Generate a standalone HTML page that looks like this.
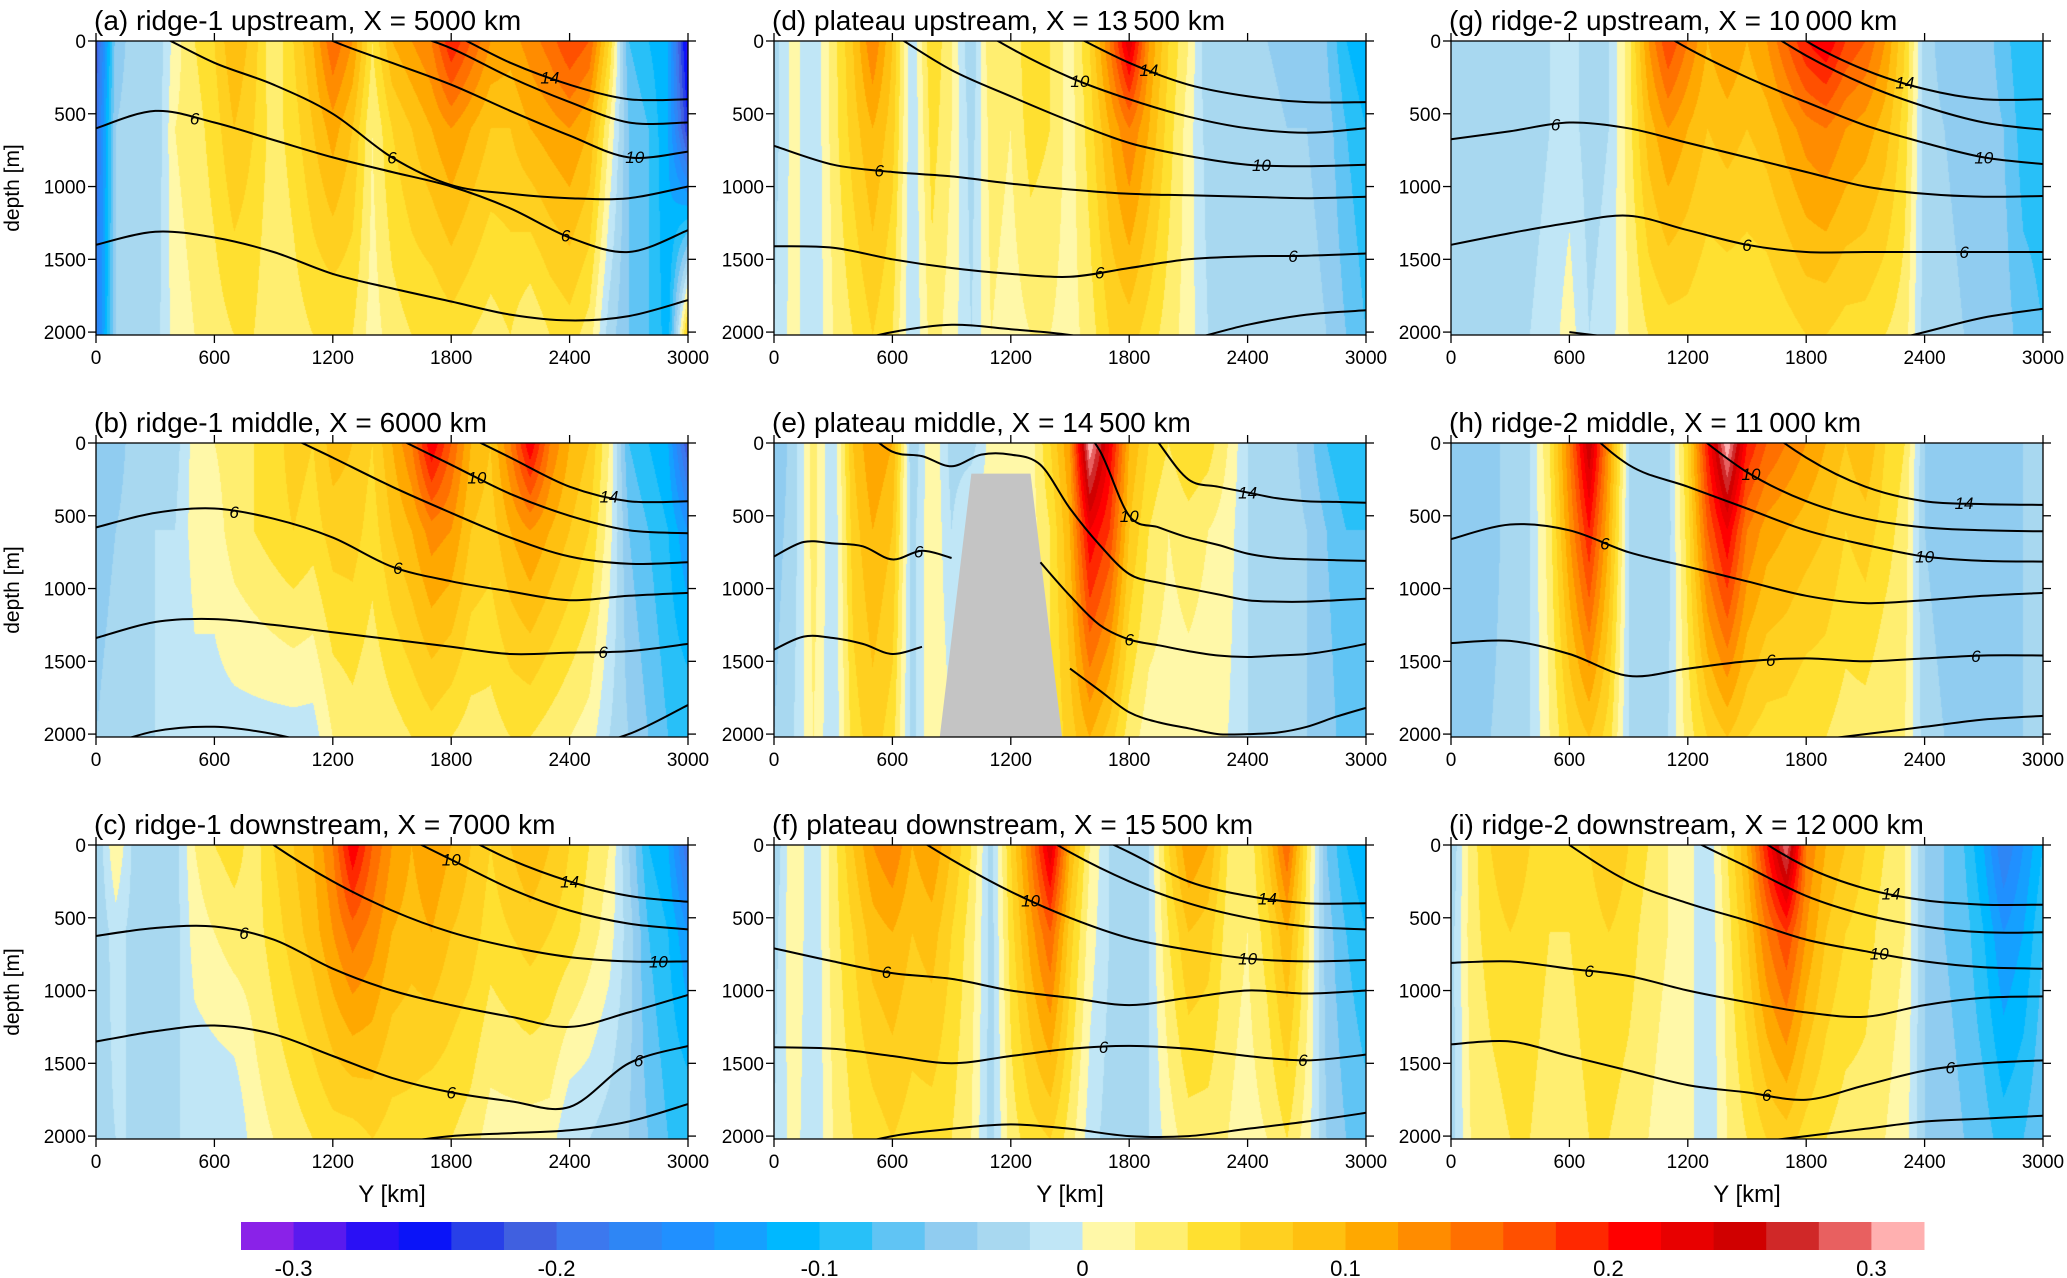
<!DOCTYPE html>
<html><head><meta charset="utf-8"><title>Sections</title>
<style>
html,body{margin:0;padding:0;background:#fff;}
body{width:2067px;height:1278px;position:relative;overflow:hidden;font-family:"Liberation Sans",sans-serif;}
canvas{position:absolute;}
svg{position:absolute;left:0;top:0;}
</style></head>
<body>
<div id="canv"></div>
<svg id="fig" width="2067" height="1278"></svg>
<script>
// ---- data ----
const yTicks = [0,500,1000,1500,2000];
const xTicks = [0,600,1200,1800,2400,3000];
const cbTicks = [-0.3,-0.2,-0.1,0,0.1,0.2,0.3];
const levelDepths = [0,600,2020];
const palette = ["#8a22e8","#5a1aee","#2a10f5","#0a14f8","#2840e8","#4060e0","#3c78ee","#2e86f5","#2090ff","#15a0ff","#00b8ff","#28c0f8","#60c4f4","#90ccf0","#a8d8f0","#c0e6f6","#fff8a8","#ffee70","#ffe030","#ffd020","#ffc010","#ffa800","#ff8c00","#ff7000","#ff5000","#ff2800","#ff0000","#e80000","#d00000","#d02828","#e86060","#ffb0b0"];
const titles = ["(a) ridge-1 upstream, X = 5000 km","(b) ridge-1 middle, X = 6000 km","(c) ridge-1 downstream, X = 7000 km","(d) plateau upstream, X = 13\u2009500 km","(e) plateau middle, X = 14\u2009500 km","(f) plateau downstream, X = 15\u2009500 km","(g) ridge-2 upstream, X = 10\u2009000 km","(h) ridge-2 middle, X = 11\u2009000 km","(i) ridge-2 downstream, X = 12\u2009000 km"];

const aSurf=[-0.22,-0.05,-0.03,-0.04,0.01,0.04,0.06,0.1,0.07,0.02,0.06,0.1,0.16,0.12,0.04,0.1,0.12,0.14,0.2,0.16,0.12,0.11,0.13,0.15,0.18,0.16,0.06,-0.08,-0.1,-0.12,-0.28];
const aMid=[-0.2,-0.04,-0.03,-0.04,0.02,0.03,0.05,0.08,0.06,0.03,0.05,0.08,0.11,0.08,0.02,0.06,0.08,0.1,0.12,0.1,0.08,0.08,0.1,0.11,0.12,0.1,0.02,-0.06,-0.08,-0.12,-0.24];
const aDeep=[-0.18,-0.04,-0.03,-0.03,0.01,0.02,0.03,0.04,0.04,0.02,0.03,0.04,0.04,0.04,0.01,0.03,0.04,0.04,0.05,0.04,0.03,0.04,0.02,0.04,0.05,0.03,-0.03,-0.06,-0.08,-0.11,0.08];
const bSurf=[-0.06,-0.05,-0.03,-0.02,-0.03,0.01,0.02,0.03,0.04,0.05,0.07,0.06,0.09,0.08,0.06,0.1,0.14,0.22,0.16,0.1,0.08,0.14,0.22,0.14,0.1,0.08,0.02,-0.08,-0.1,-0.12,-0.22];
const bMid=[-0.05,-0.04,-0.03,-0.02,-0.02,0.01,0.01,0.03,0.04,0.05,0.06,0.05,0.07,0.07,0.05,0.08,0.1,0.13,0.12,0.08,0.07,0.1,0.12,0.1,0.08,0.06,0.01,-0.06,-0.08,-0.1,-0.14];
const bDeep=[-0.04,-0.03,-0.02,-0.02,-0.02,-0.01,-0.01,-0.01,-0.01,-0.01,-0.01,-0.01,0.02,0.03,0.02,0.03,0.04,0.05,0.04,0.03,0.03,0.04,0.04,0.03,0.02,0.01,-0.02,-0.04,-0.06,-0.08,-0.08];
const cSurf=[-0.04,0.02,-0.03,-0.02,-0.03,0.02,0.04,0.05,0.03,0.06,0.08,0.1,0.14,0.22,0.16,0.12,0.1,0.12,0.1,0.08,0.06,0.08,0.1,0.08,0.06,0.04,0.02,-0.04,-0.1,-0.12,-0.2];
const cMid=[-0.04,-0.01,-0.03,-0.02,-0.03,0.01,0.02,0.03,0.03,0.05,0.07,0.09,0.12,0.15,0.13,0.1,0.09,0.1,0.08,0.07,0.05,0.06,0.07,0.06,0.05,0.03,0.01,-0.03,-0.08,-0.1,-0.14];
const cDeep=[-0.03,-0.02,-0.02,-0.02,-0.02,-0.02,-0.02,-0.02,0.01,0.02,0.03,0.04,0.05,0.05,0.06,0.05,0.05,0.04,0.04,0.03,0.01,0.01,0.01,0.01,-0.02,-0.02,-0.03,-0.04,-0.06,-0.08,-0.08];
const dSurf=[-0.03,0.01,-0.02,0.03,0.08,0.14,0.08,-0.02,0.06,0.02,-0.04,0.04,0.02,0.06,0.04,0.01,0.06,0.14,0.24,0.12,0.06,0.02,-0.04,-0.03,-0.02,-0.04,-0.05,-0.04,-0.06,-0.1,-0.12];
const dMid=[-0.03,0.01,-0.02,0.03,0.07,0.1,0.07,-0.02,0.05,0.02,-0.03,0.03,0.02,0.05,0.04,0.01,0.05,0.1,0.14,0.1,0.05,0.01,-0.03,-0.03,-0.02,-0.03,-0.04,-0.04,-0.05,-0.08,-0.1];
const dDeep=[-0.02,0.01,-0.02,0.02,0.04,0.06,0.04,-0.02,0.03,0.01,-0.02,0.02,0.01,0.02,0.02,0.01,0.03,0.06,0.07,0.05,0.03,0.01,-0.02,-0.02,-0.02,-0.02,-0.03,-0.03,-0.04,-0.06,-0.08];
const eSurf=[-0.06,-0.03,0.03,-0.02,0.08,0.12,0.1,-0.04,0.02,-0.03,-0.03,0.01,0.01,0.01,0.06,0.12,0.32,0.22,0.1,0.06,0.04,0.06,0.05,0.02,-0.02,-0.04,-0.03,-0.05,-0.08,-0.1,-0.1];
const eMid=[-0.05,-0.03,0.03,-0.02,0.07,0.1,0.08,-0.03,0.02,-0.02,0.01,0.01,0.01,0.01,0.04,0.1,0.22,0.18,0.08,0.04,0.02,0.03,0.02,0.01,-0.02,-0.03,-0.03,-0.04,-0.06,-0.08,-0.08];
const eDeep=[-0.04,-0.02,0.02,-0.02,0.05,0.07,0.05,-0.03,0.02,0,0,0,0,0,0.04,0.07,0.1,0.07,0.03,0.01,0.01,0.01,0.01,0,-0.02,-0.03,-0.03,-0.04,-0.05,-0.07,-0.07];
const fSurf=[-0.04,0.02,-0.02,0.03,0.08,0.12,0.14,0.1,0.12,0.08,0.04,-0.03,0.06,0.14,0.24,0.1,0.02,-0.02,-0.03,-0.02,0.06,0.12,0.1,0.04,0.02,0.08,0.16,0.04,-0.06,-0.1,-0.12];
const fMid=[-0.03,0.02,-0.02,0.03,0.06,0.09,0.1,0.08,0.09,0.06,0.03,-0.03,0.05,0.11,0.16,0.07,0.01,-0.02,-0.03,-0.02,0.04,0.08,0.07,0.03,0.02,0.05,0.1,0.03,-0.05,-0.08,-0.1];
const fDeep=[-0.02,0.01,-0.02,0.02,0.04,0.05,0.06,0.05,0.05,0.04,0.02,-0.03,0.03,0.05,0.06,0.03,-0.01,-0.03,-0.03,-0.02,0.01,0.03,0.03,0.02,0.01,0.02,0.04,0.01,-0.04,-0.06,-0.07];
const gSurf=[-0.04,-0.03,-0.03,-0.02,-0.03,-0.02,-0.01,-0.03,-0.02,0.03,0.12,0.18,0.14,0.1,0.12,0.1,0.12,0.16,0.2,0.22,0.18,0.16,0.12,0.06,-0.03,-0.05,-0.06,-0.05,-0.07,-0.1,-0.1];
const gMid=[-0.04,-0.03,-0.03,-0.02,-0.03,-0.02,-0.01,-0.03,-0.02,0.03,0.09,0.12,0.1,0.08,0.09,0.08,0.09,0.11,0.13,0.14,0.12,0.11,0.09,0.05,-0.03,-0.04,-0.05,-0.05,-0.06,-0.09,-0.09];
const gDeep=[-0.03,-0.03,-0.02,-0.02,-0.02,-0.01,0.01,-0.02,-0.01,0.02,0.04,0.05,0.05,0.04,0.04,0.04,0.04,0.05,0.06,0.06,0.05,0.05,0.04,0.03,-0.03,-0.03,-0.04,-0.04,-0.05,-0.07,-0.08];
const hSurf=[-0.05,-0.04,-0.05,-0.03,-0.02,0.04,0.14,0.26,0.12,-0.02,-0.04,-0.03,0.06,0.2,0.32,0.2,0.16,0.14,0.12,0.1,0.08,0.1,0.06,0.04,-0.04,-0.06,-0.05,-0.06,-0.05,-0.04,-0.02];
const hMid=[-0.05,-0.04,-0.05,-0.03,-0.02,0.03,0.12,0.2,0.1,-0.02,-0.04,-0.03,0.05,0.16,0.22,0.14,0.11,0.1,0.09,0.08,0.06,0.07,0.05,0.03,-0.04,-0.05,-0.05,-0.05,-0.05,-0.04,-0.02];
const hDeep=[-0.04,-0.04,-0.04,-0.03,-0.02,0.02,0.06,0.08,0.05,-0.02,-0.03,-0.02,0.03,0.06,0.08,0.06,0.05,0.05,0.04,0.04,0.03,0.03,0.02,0.02,-0.03,-0.04,-0.04,-0.04,-0.04,-0.04,-0.03];
const iSurf=[-0.04,0.03,0.06,0.08,0.06,0.05,0.04,0.06,0.08,0.06,0.04,0.02,0.01,-0.02,0.04,0.1,0.2,0.3,0.14,0.1,0.08,0.06,0.04,0.02,-0.04,-0.06,-0.08,-0.12,-0.18,-0.14,-0.1];
const iMid=[-0.03,0.03,0.05,0.06,0.05,0.04,0.04,0.05,0.06,0.05,0.03,0.02,0.01,-0.02,0.03,0.08,0.14,0.18,0.12,0.08,0.06,0.05,0.03,0.02,-0.04,-0.06,-0.07,-0.1,-0.14,-0.12,-0.08];
const iDeep=[-0.03,0.02,0.03,0.04,0.04,0.03,0.03,0.04,0.04,0.03,0.02,0.01,0.01,-0.02,0.02,0.04,0.06,0.07,0.05,0.04,0.03,0.03,0.02,0.01,-0.04,-0.05,-0.06,-0.07,-0.09,-0.08,-0.06];

// contour depths (m) at evenly spaced Y across 0..3000 km; null = no line
const aLines=[[-1500,-1200,-900,-600,-400,-200,-50,150,300,400,400],[-1200,-900,-700,-500,-300,-100,50,250,420,560,560],[-800,-600,-400,-200,0,150,300,480,650,800,760],[-200,-50,150,300,500,800,990,1050,1080,1080,1000],[600,480,560,680,800,900,1000,1150,1350,1450,1300],[1400,1310,1350,1450,1600,1700,1790,1880,1920,1890,1780]];
const bLines=[[-1800,-1400,-1100,-800,-500,-300,-100,100,300,400,400],[-1400,-1100,-800,-500,-250,-50,150,350,500,600,620],[-900,-600,-350,-100,100,300,480,650,780,830,820],[580,480,450,520,650,850,950,1020,1080,1050,1030],[1340,1230,1210,1250,1300,1350,1400,1450,1440,1430,1380],[2100,1980,1950,2000,2100,2200,2200,2150,2100,2000,1800]];
const cLines=[[-1900,-1500,-1150,-800,-550,-300,-100,100,250,350,390],[-1500,-1150,-850,-550,-300,-100,100,300,450,540,580],[-900,-600,-300,0,250,450,600,700,770,800,800],[625,570,560,650,850,1000,1100,1180,1250,1150,1030],[1350,1280,1240,1300,1450,1600,1700,1760,1800,1500,1380],[2500,2400,2300,2200,2100,2050,2000,1980,1960,1900,1780]];
const dLines=[[-1500,-1100,-800,-500,-250,-50,150,300,380,420,420],[-1100,-800,-500,-200,50,250,400,520,600,630,600],[-600,-300,-50,200,380,550,700,790,850,860,850],[720,850,900,930,980,1020,1050,1060,1070,1080,1070],[1410,1420,1500,1560,1600,1620,1560,1500,1480,1475,1460],[null,2100,2000,1950,1980,2020,2100,2050,1950,1880,1850]];
const eLines=[[-600,-450,-300,-100,60,90,160,80,80,150,450,700,900,960,1000,1040,1080,1090,1090,1080,1070],[null,null,null,null,null,null,null,null,null,null,-700,-500,-300,0,250,300,340,380,400,405,410],[null,null,null,null,null,null,null,null,null,null,-200,50,500,580,650,700,760,790,800,805,810],[780,680,690,710,800,740,790,null,null,820,1050,1250,1350,1390,1430,1460,1470,1460,1450,1420,1380],[1420,1330,1340,1380,1450,1400,null,null,null,null,1550,1700,1850,1920,1960,2000,2000,1990,1950,1880,1820]];
const fLines=[[-1900,-1500,-1100,-700,-400,-150,50,250,350,400,400],[-1400,-1050,-750,-450,-200,50,250,400,500,560,580],[-700,-400,-150,100,320,500,640,720,780,800,790],[710,800,880,920,1000,1050,1100,1050,1000,1020,1000],[1390,1400,1450,1500,1450,1400,1380,1400,1450,1480,1440],[2200,2100,2000,1950,1920,1950,2000,2000,1950,1900,1840]];
const gLines=[[-2500,-2000,-1500,-1000,-650,-300,0,200,330,400,400],[-2000,-1500,-1100,-700,-400,-150,100,300,450,560,610],[-1200,-800,-500,-200,50,250,420,580,700,800,845],[675,620,560,600,700,800,900,1000,1050,1070,1065],[1400,1320,1250,1200,1300,1400,1450,1450,1450,1450,1450],[null,null,2000,2050,2100,2200,2200,2100,2000,1900,1840]];
const hLines=[[-2200,-1800,-1300,-900,-600,-200,100,300,400,420,425],[-1600,-1200,-800,-400,-100,200,400,520,580,600,607],[-1000,-600,-200,150,300,450,600,700,780,810,815],[660,560,600,750,850,950,1050,1100,1080,1050,1030],[1375,1360,1450,1600,1550,1500,1480,1500,1480,1460,1460],[null,null,null,null,2200,2100,2050,2000,1950,1900,1875]];
const iLines=[[-2000,-1600,-1200,-800,-450,-100,150,300,380,410,410],[-1300,-900,-600,-300,-50,150,350,480,560,600,600],[-700,-300,0,250,400,520,650,730,800,840,850],[810,800,850,900,1000,1080,1150,1180,1100,1050,1040],[1370,1350,1450,1550,1650,1700,1750,1650,1550,1500,1480],[null,null,null,2200,2100,2050,2000,1950,1900,1880,1860]];

const aLabels=[[0,2300,'14'],[1,1780,'10'],[2,2730,'10'],[3,1500,'6'],[4,500,'6'],[4,2380,'6']];
const bLabels=[[0,2600,'14'],[1,1930,'10'],[3,700,'6'],[3,1530,'6'],[4,2570,'6']];
const cLabels=[[0,2400,'14'],[1,1800,'10'],[2,2850,'10'],[3,750,'6'],[4,1800,'6'],[4,2750,'6']];
const dLabels=[[0,1900,'14'],[1,1550,'10'],[2,2470,'10'],[3,533,'6'],[4,1650,'6'],[4,2630,'6']];
const eLabels=[[1,2400,'14'],[2,1800,'10'],[3,733,'6'],[3,1800,'6']];
const fLabels=[[0,2500,'14'],[2,1300,'10'],[2,2400,'10'],[3,570,'6'],[4,1670,'6'],[4,2680,'6']];
const gLabels=[[0,2300,'14'],[1,1700,'10'],[2,2700,'10'],[3,530,'6'],[4,1500,'6'],[4,2600,'6']];
const hLabels=[[0,2600,'14'],[1,1520,'10'],[2,2400,'10'],[3,780,'6'],[4,1620,'6'],[4,2660,'6']];
const iLabels=[[0,2230,'14'],[1,1150,'10'],[2,2170,'10'],[3,700,'6'],[4,1600,'6'],[4,2530,'6']];

const ridgeY=[840,1000,1300,1460];
const ridgeZ=[2020,210,210,2020];

// ---- layout ----
const NS="http://www.w3.org/2000/svg";
const svg=document.getElementById('fig');
const canvLayer=document.getElementById('canv');
const colL=[96,774,1451], rowT=[41,443,845], PW=592, PH=294, ZMAX=2020, YMAX=3000;
const panels=[
 {k:'a',c:0,r:0,s:aSurf,m:aMid,d:aDeep,L:aLines,lab:aLabels},
 {k:'b',c:0,r:1,s:bSurf,m:bMid,d:bDeep,L:bLines,lab:bLabels},
 {k:'c',c:0,r:2,s:cSurf,m:cMid,d:cDeep,L:cLines,lab:cLabels},
 {k:'d',c:1,r:0,s:dSurf,m:dMid,d:dDeep,L:dLines,lab:dLabels},
 {k:'e',c:1,r:1,s:eSurf,m:eMid,d:eDeep,L:eLines,lab:eLabels,ridge:true},
 {k:'f',c:1,r:2,s:fSurf,m:fMid,d:fDeep,L:fLines,lab:fLabels},
 {k:'g',c:2,r:0,s:gSurf,m:gMid,d:gDeep,L:gLines,lab:gLabels},
 {k:'h',c:2,r:1,s:hSurf,m:hMid,d:hDeep,L:hLines,lab:hLabels},
 {k:'i',c:2,r:2,s:iSurf,m:iMid,d:iDeep,L:iLines,lab:iLabels}];

function mk(tag,attrs,parent){const e=document.createElementNS(NS,tag);for(const a in attrs)e.setAttribute(a,attrs[a]);(parent||svg).appendChild(e);return e;}
function colorIdx(v){let i=Math.floor((v+0.32)/0.02);return Math.max(0,Math.min(31,i));}
function hex2rgb(h){return [parseInt(h.substr(1,2),16),parseInt(h.substr(3,2),16),parseInt(h.substr(5,2),16)];}
const palRGB=palette.map(hex2rgb);
function interpArr(arr,Y){const n=arr.length;const f=Y/YMAX*(n-1);let i=Math.floor(f);if(i>=n-1)i=n-2;if(i<0)i=0;const t=f-i;return arr[i]*(1-t)+arr[i+1]*t;}
function smoothPath(pts){
  if(pts.length<2)return '';
  let d='M'+pts[0][0].toFixed(1)+' '+pts[0][1].toFixed(1);
  for(let i=0;i<pts.length-1;i++){
    const p0=pts[i-1]||pts[i],p1=pts[i],p2=pts[i+1],p3=pts[i+2]||p2;
    const c1=[p1[0]+(p2[0]-p0[0])/6,p1[1]+(p2[1]-p0[1])/6];
    const c2=[p2[0]-(p3[0]-p1[0])/6,p2[1]-(p3[1]-p1[1])/6];
    d+=' C'+c1[0].toFixed(1)+' '+c1[1].toFixed(1)+' '+c2[0].toFixed(1)+' '+c2[1].toFixed(1)+' '+p2[0].toFixed(1)+' '+p2[1].toFixed(1);
  }
  return d;
}

panels.forEach((p,pi)=>{
  const L=colL[p.c],T=rowT[p.r];
  const xS=Y=>L+Y/YMAX*PW, zS=z=>T+z/ZMAX*PH;
  const xInv=x=>(x-L)/PW*YMAX, zInv=y=>(y-T)/PH*ZMAX;
  const cv=document.createElement('canvas');
  cv.width=PW;cv.height=PH;cv.style.left=L+'px';cv.style.top=T+'px';
  
  
  canvLayer.appendChild(cv);
  const ctx=cv.getContext('2d');const img=ctx.createImageData(PW,PH);
  for(let px=0;px<PW;px++){
    const Y=xInv(L+px+0.5);
    const vs=interpArr(p.s,Y),vm=interpArr(p.m,Y),vd=interpArr(p.d,Y);
    for(let py=0;py<PH;py++){
      const z=zInv(T+py+0.5);let v;
      if(z<levelDepths[1]){const t=z/levelDepths[1];v=vs*(1-t)+vm*t;}
      else{const t=(z-levelDepths[1])/(levelDepths[2]-levelDepths[1]);v=vm*(1-t)+vd*Math.min(1,t);}
      const c=palRGB[colorIdx(v)];const o=(py*PW+px)*4;
      img.data[o]=c[0];img.data[o+1]=c[1];img.data[o+2]=c[2];img.data[o+3]=255;
    }
  }
  ctx.putImageData(img,0,0);
  const g=mk('g',{});
  
  
  const cid='clip'+p.k;
  const cp=mk('clipPath',{id:cid},g);mk('rect',{x:L,y:T,width:PW,height:PH},cp);
  if(p.ridge){
    const pts=ridgeY.map((y,i)=>xS(y)+','+zS(ridgeZ[i])).join(' ');
    const rg=mk('polygon',{points:pts,fill:'#c4c4c4'},g);
    
    
  }
  const cg=mk('g',{'clip-path':'url(#'+cid+')'},g);
  p.L.forEach((arr,li)=>{
    const n=arr.length;let segs=[];let cur=[];
    arr.forEach((z,j)=>{
      if(z===null){if(cur.length)segs.push(cur);cur=[];return;}
      cur.push([xS(j*YMAX/(n-1)),zS(z)]);
    });
    if(cur.length)segs.push(cur);
    const d=segs.map(smoothPath).join(' ');
    const path=mk('path',{d:d,fill:'none',stroke:'#000','stroke-width':2,'stroke-linejoin':'round'},cg);
    
    
  });
  p.lab.forEach(lb=>{
    const arr=p.L[lb[0]];const n=arr.length;const f=lb[1]/YMAX*(n-1);let i=Math.min(n-2,Math.floor(f));const t=f-i;
    const a=arr[i],b=arr[i+1];if(a===null||b===null)return;
    const z=a*(1-t)+b*t;
    if(z<60||z>1960)return;
    const tx=mk('text',{x:xS(lb[1]),y:zS(z)+6,'text-anchor':'middle','font-size':17,'font-style':'italic',fill:'#000'},g);
    tx.textContent=lb[2];
    
    
  });
  const fr=mk('rect',{x:L,y:T,width:PW,height:PH,fill:'none',stroke:'#000','stroke-width':1.3},g);
  
  
  yTicks.forEach(v=>{
    const y=zS(v);
    mk('line',{x1:L-8,x2:L,y1:y,y2:y,stroke:'#000','stroke-width':1.3},g);
    mk('line',{x1:L+PW,x2:L+PW+8,y1:y,y2:y,stroke:'#000','stroke-width':1.3},g);
    const t=mk('text',{x:L-10,y:y+7,'text-anchor':'end','font-size':19,fill:'#000'},g);
    t.textContent=v;
    
    
  });
  xTicks.forEach(v=>{
    const x=xS(v);
    mk('line',{x1:x,x2:x,y1:T+PH,y2:T+PH+8,stroke:'#000','stroke-width':1.3},g);
    mk('line',{x1:x,x2:x,y1:T-8,y2:T,stroke:'#000','stroke-width':1.3},g);
    const t=mk('text',{x:x,y:T+PH+29,'text-anchor':'middle','font-size':19,fill:'#000'},g);
    t.textContent=v;
    
    
  });
  const tt=mk('text',{x:L-2,y:T-11,'font-size':28,fill:'#000'},g);
  tt.textContent=titles[pi];
  
  
  if(p.c===0){
    const cy=T+PH/2;
    const yl=mk('text',{x:0,y:0,transform:'translate(19,'+cy+') rotate(-90)','text-anchor':'middle','font-size':21,fill:'#000'},g);
    yl.textContent='depth [m]';
    
    
  }
  if(p.r===2){
    const xl=mk('text',{x:L+PW/2,y:1202,'text-anchor':'middle','font-size':24,fill:'#000'},g);
    xl.textContent='Y [km]';
    
    
  }
});

const cbL=241,cbR=1924,cbT=1222,cbH=28;
const cbS=v=>cbL+(v+0.32)/0.64*(cbR-cbL);
const cbg=mk('g',{});


palette.forEach((col,i)=>{
  const v0=-0.32+i*0.02;
  const r=mk('rect',{x:cbS(v0),y:cbT,width:cbS(v0+0.02)-cbS(v0)+0.5,height:cbH,fill:col},cbg);
  
  
});
cbTicks.forEach(v=>{
  const t=mk('text',{x:cbS(v),y:1276,'text-anchor':'middle','font-size':22,fill:'#000'},cbg);
  t.textContent=(v===0?'0':v.toFixed(1));
  
  
});
</script>
</body></html>
